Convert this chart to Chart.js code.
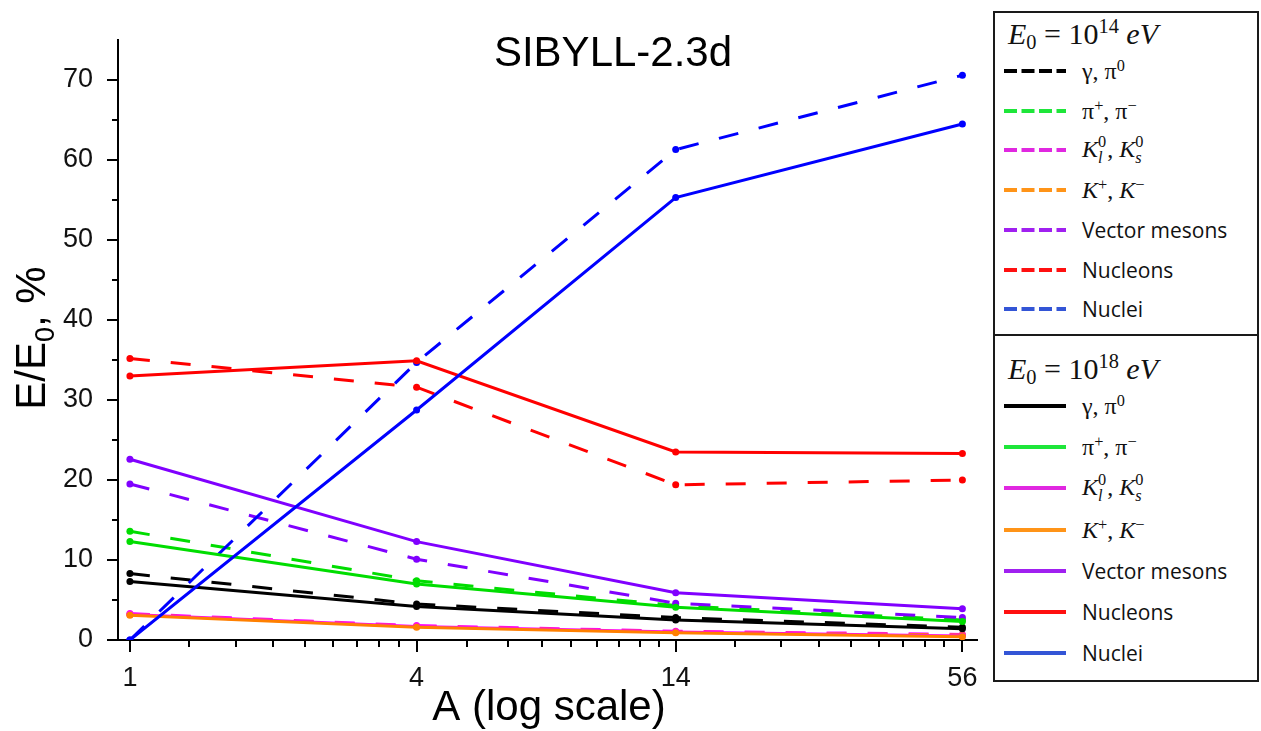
<!DOCTYPE html>
<html>
<head>
<meta charset="utf-8">
<script src="https://cdn.jsdelivr.net/npm/chart.js@4/dist/chart.umd.min.js"></script>
<style>
    html, body { margin: 0; padding: 0; background: #fff; }
    #wrap { position: relative; width: 1261px; height: 731px; overflow: hidden; }
    #chart { position: absolute; left: 0; top: 0; }
    .legend-box { position: absolute; left: 993px; width: 266px; border: 2px solid #1a1a1a; box-sizing: border-box; background: #fff; }
    .legend-title { position: absolute; left: 13px; font-family: 'Liberation Serif', 'DejaVu Serif', serif; font-size: 30px; color: #111; white-space: nowrap; }
    .legend-title sub { font-size: 0.68em; vertical-align: -0.25em; }
    .legend-title sup { font-size: 0.68em; vertical-align: 0.55em; }
    .legend-row { position: absolute; left: 0; height: 30px; display: flex; align-items: center; white-space: nowrap; }
    .legend-row svg { margin-left: 9px; }
    .legend-text { margin-left: 16px; font-family: 'Open Sans', 'Noto Sans', sans-serif; font-size: 21px; color: #111; }
    .m { font-family: 'Liberation Serif', 'DejaVu Serif', serif; font-size: 24px; }
    .m sup { font-size: 0.68em; vertical-align: 0.5em; line-height: 0; }
    .ss { display: inline-flex; flex-direction: column; font-size: 0.68em; line-height: 1; vertical-align: 0.6em; margin-right: 1px; }
</style>
</head>
<body>
<div id="wrap">
    <canvas id="chart" width="1261" height="731"></canvas>
    <div id="legend1" class="legend-box" style="top: 11px; height: 325px;"></div>
    <div id="legend2" class="legend-box" style="top: 334px; height: 348px;"></div>
</div>
<script>
// --- Datos ---
const massNumbers = [1, 4, 14, 56];
const xMajorTicks = [1, 4, 14, 56];
const xMinorTicks = [1.333, 1.667, 2, 2.333, 2.667, 3, 3.333, 3.667,
                     5.111, 6.222, 7.333, 8.444, 9.556, 10.667, 11.778, 12.889,
                     18.667, 23.333, 28, 32.667, 37.333, 42, 46.667, 51.333];
const yMax = 75;
const yStep = 5;

const speciesNames = ['γ, π0', 'π+, π−', 'Kl0, Ks0', 'K+, K−', 'Vector mesons', 'Nucleons', 'Nuclei'];
const speciesLegend = [
    '<span class="m">γ, π<sup>0</sup></span>',
    '<span class="m">π<sup>+</sup>, π<sup>−</sup></span>',
    '<span class="m"><i>K</i><span class="ss"><span>0</span><i>l</i></span>, <i>K</i><span class="ss"><span>0</span><i>s</i></span></span>',
    '<span class="m"><i>K</i><sup>+</sup>, <i>K</i><sup>−</sup></span>',
    'Vector mesons',
    'Nucleons',
    'Nuclei'
];

// E0 = 1e14 eV (discontinua)
const gamma14     = [8.3, 4.5, 2.8, 1.6];
const pions14     = [13.6, 7.4, 4.3, 2.5];
const kaonsNeu14  = [3.3, 1.8, 1.1, 0.7];
const kaonsCh14   = [3.2, 1.7, 1.0, 0.6];
const vector14    = [19.5, 10.1, 4.6, 2.8];
const nucleons14  = [35.2, 31.6, 19.4, 20.0];
const nuclei14    = [0, 34.7, 61.3, 70.6];

// E0 = 1e18 eV (continua)
const gamma18     = [7.3, 4.2, 2.5, 1.4];
const pions18     = [12.3, 7.0, 4.1, 2.3];
const kaonsNeu18  = [3.2, 1.7, 1.0, 0.5];
const kaonsCh18   = [3.1, 1.6, 0.9, 0.4];
const vector18    = [22.6, 12.3, 5.9, 3.9];
const nucleons18  = [33.0, 34.9, 23.5, 23.3];
const nuclei18    = [0, 28.75, 55.3, 64.5];

const series14 = [gamma14, pions14, kaonsNeu14, kaonsCh14, vector14, nucleons14, nuclei14];
const series18 = [gamma18, pions18, kaonsNeu18, kaonsCh18, vector18, nucleons18, nuclei18];

// --- Estilos ---
const lineColors   = ['#000000', '#00dd00', '#ff00ff', '#ff8000', '#8000ff', '#ff0000', '#0000ff'];
const legendColors = ['#000000', '#1ee63a', '#e028e0', '#ff9418', '#a020f0', '#ff1010', '#3355d6'];
const FONT = "'Liberation Sans', Arial, sans-serif";

function buildDataset(values, idx, dashed) {
    return {
        label: speciesNames[idx] + (dashed ? ' (1e14 eV)' : ' (1e18 eV)'),
        data: values.map((v, i) => ({ x: massNumbers[i], y: v })),
        borderColor: lineColors[idx],
        backgroundColor: lineColors[idx],
        borderWidth: 3,
        borderDash: dashed ? [20, 21] : [],
        pointRadius: 3.5,
        pointHoverRadius: 3.5,
        pointBorderWidth: 0,
        tension: 0,
        order: dashed ? 20 - idx : 10 - idx
    };
}

const datasets = [];
series14.forEach((s, i) => datasets.push(buildDataset(s, i, true)));
series18.forEach((s, i) => datasets.push(buildDataset(s, i, false)));

// Marcas de los ejes (mayores y menores) y textos extra
const axisDecor = {
    id: 'axisDecor',
    afterDraw(chart) {
        const { ctx, chartArea, scales: { x, y } } = chart;
        ctx.save();
        ctx.strokeStyle = '#000';
        ctx.lineWidth = 2;
        ctx.beginPath();
        x.ticks.forEach(t => {
            const px = Math.round(x.getPixelForValue(t.value));
            const len = xMajorTicks.includes(t.value) ? 12 : 7;
            ctx.moveTo(px, chartArea.bottom);
            ctx.lineTo(px, chartArea.bottom + len);
        });
        y.ticks.forEach(t => {
            if (t.value >= yMax) return;
            const py = Math.round(y.getPixelForValue(t.value));
            const len = t.value % 10 === 0 ? 11 : 6;
            ctx.moveTo(chartArea.left, py);
            ctx.lineTo(chartArea.left - len, py);
        });
        ctx.stroke();

        // Título
        ctx.fillStyle = '#000';
        ctx.font = '42px ' + FONT;
        ctx.textAlign = 'center';
        ctx.textBaseline = 'alphabetic';
        ctx.fillText('SIBYLL-2.3d', 613, 66);

        // Título eje X
        ctx.fillText('A (log scale)', 549, 720);

        // Título eje Y con subíndice
        ctx.save();
        ctx.translate(45, 338);
        ctx.rotate(-Math.PI / 2);
        ctx.textAlign = 'left';
        const big = '42px ' + FONT, small = '27px ' + FONT;
        ctx.font = big;
        const w1 = ctx.measureText('E/E').width;
        const w3 = ctx.measureText(', %').width;
        ctx.font = small;
        const w2 = ctx.measureText('0').width;
        let px = -(w1 + w2 + w3) / 2;
        ctx.font = big;
        ctx.fillText('E/E', px, 0);
        px += w1;
        ctx.font = small;
        ctx.fillText('0', px, 9);
        px += w2;
        ctx.font = big;
        ctx.fillText(', %', px, 0);
        ctx.restore();
        ctx.restore();
    }
};

new Chart(document.getElementById('chart'), {
    type: 'line',
    data: { datasets: datasets },
    options: {
        responsive: false,
        animation: false,
        devicePixelRatio: 1,
        layout: { padding: { left: 0, top: 40, right: 284, bottom: 0 } },
        plugins: { legend: { display: false }, tooltip: { enabled: false } },
        scales: {
            x: {
                type: 'logarithmic',
                min: 0.944,
                max: 60.1,
                afterFit: (scale) => { scale.height = 91; },
                afterBuildTicks: (scale) => {
                    scale.ticks = xMajorTicks.concat(xMinorTicks)
                        .sort((a, b) => a - b)
                        .map(v => ({ value: v, major: xMajorTicks.includes(v) }));
                },
                grid: { display: false },
                border: { display: true, color: '#000', width: 2 },
                ticks: {
                    autoSkip: false,
                    maxRotation: 0,
                    padding: 14,
                    color: '#111',
                    font: { family: FONT, size: 27 },
                    callback: (value) => xMajorTicks.includes(value) ? String(value) : ''
                }
            },
            y: {
                min: 0,
                max: yMax,
                afterFit: (scale) => { scale.width = 118; },
                grid: { display: false },
                border: { display: true, color: '#000', width: 2 },
                ticks: {
                    stepSize: yStep,
                    padding: 17,
                    color: '#111',
                    font: { family: FONT, size: 27 },
                    callback: (value) => (value % 10 === 0 && value < yMax) ? String(value) : ''
                }
            }
        }
    },
    plugins: [axisDecor]
});

// --- Leyenda HTML ---
function buildLegend(boxId, exponent, dashed, titleTop, firstRow, rowStep) {
    const box = document.getElementById(boxId);
    const title = document.createElement('div');
    title.className = 'legend-title';
    title.style.top = titleTop + 'px';
    title.innerHTML = '<i>E</i><sub>0</sub> = 10<sup>' + exponent + '</sup> <i>eV</i>';
    box.appendChild(title);
    speciesLegend.forEach((html, i) => {
        const row = document.createElement('div');
        row.className = 'legend-row';
        row.style.top = (firstRow + i * rowStep - 15) + 'px';
        const dash = dashed ? 'stroke-dasharray="13 4.5"' : '';
        row.innerHTML =
            '<svg width="62" height="8"><line x1="0" y1="4" x2="62" y2="4" stroke="' + legendColors[i] +
            '" stroke-width="4" ' + dash + '/></svg>' +
            '<span class="legend-text">' + html + '</span>';
        box.appendChild(row);
    });
}

buildLegend('legend1', 14, true, 2, 58, 39.7);
buildLegend('legend2', 18, false, 14, 70, 41.2);
</script>
</body>
</html>
